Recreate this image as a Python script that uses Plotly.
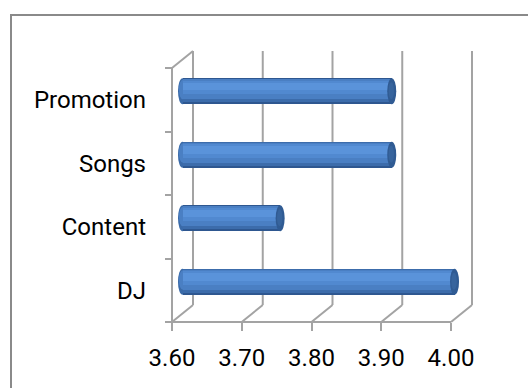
import plotly.graph_objects as go

# ---- data ----
categories = ["DJ", "Content", "Songs", "Promotion"]
values = [3.99, 3.74, 3.90, 3.90]
x_ticks = [3.60, 3.70, 3.80, 3.90, 4.00]
x_tick_labels = ["3.60", "3.70", "3.80", "3.90", "4.00"]
x_base = 3.60

# ---- geometry (pixels) ----
PXX = 697.5          # px per x unit
PXY = 63.5           # px per category
PLOT_L, PLOT_R, PLOT_T, PLOT_B = 168, 476, 47, 326
AX_X_PX, AX_Y_PX = 172, 322      # front axes location
DEPTH_X, DEPTH_Y = 21, 17        # 3-D depth offset (px)
W = PLOT_R - PLOT_L
H = PLOT_B - PLOT_T

x_min = x_base - (AX_X_PX - PLOT_L) / PXX
x_max = x_min + W / PXX
y_lo = -0.5
y_hi = len(categories) - 0.5
y_min = y_lo - (PLOT_B - AX_Y_PX) / PXY
y_max = y_min + H / PXY

dx_full = DEPTH_X / PXX
dy_full = DEPTH_Y / PXY
dx_mid = dx_full / 2
dy_mid = dy_full / 2

GRID = "#A3A3A3"
fig = go.Figure()

# ---- cylinder bars (layered bands for shading) ----
half = 13.0
bands = [
    (-13.0, 13.0, "#2E5790"),
    (-11.0, 12.6, "#3C6CAB"),
    (-8.0, 12.0, "#4A7FC3"),
    (-3.0, 10.5, "#5189D0"),
    (1.0, 8.5, "#5A93DA"),
]
lengths = [v - x_base for v in values]
for lo, hi, col in bands:
    fig.add_trace(go.Bar(
        y=categories, x=lengths, base=[x_base + dx_mid] * len(values),
        orientation="h",
        width=(hi - lo) / PXY,
        offset=lo / PXY + dy_mid,
        marker=dict(color=col, line=dict(width=0)),
        hoverinfo="skip", showlegend=False,
    ))

shapes = []
line_style = dict(color=GRID, width=2)

# front axes lines
shapes.append(dict(type="line", xref="x", yref="y", x0=x_ticks[0], x1=x_ticks[-1],
                   y0=y_lo, y1=y_lo, line=line_style, layer="below"))
shapes.append(dict(type="line", xref="x", yref="y", x0=x_ticks[0], x1=x_ticks[0],
                   y0=y_lo, y1=y_hi, line=line_style, layer="below"))
# top-left diagonal
shapes.append(dict(type="line", xref="x", yref="y", x0=x_ticks[0], x1=x_ticks[0] + dx_full,
                   y0=y_hi, y1=y_hi + dy_full, line=line_style, layer="below"))
for t in x_ticks:
    # floor diagonal
    shapes.append(dict(type="line", xref="x", yref="y", x0=t, x1=t + dx_full,
                       y0=y_lo, y1=y_lo + dy_full, line=line_style, layer="below"))
    # back wall gridline
    shapes.append(dict(type="line", xref="x", yref="y", x0=t + dx_full, x1=t + dx_full,
                       y0=y_lo + dy_full, y1=y_hi + dy_full, line=line_style, layer="below"))

# cylinder caps
cap_w = 4.5 / PXX
for i, v in enumerate(values):
    yc = i + dy_mid
    xl = x_base + dx_mid
    # left rounded end (behind body)
    shapes.append(dict(type="circle", xref="x", yref="y",
                       x0=xl - cap_w, x1=xl + cap_w, y0=yc - half / PXY, y1=yc + half / PXY,
                       fillcolor="#3A6AA8", line=dict(width=0), layer="below"))
    shapes.append(dict(type="circle", xref="x", yref="y",
                       x0=xl - cap_w * 0.8, x1=xl + cap_w, y0=yc - 8 / PXY, y1=yc + 11.5 / PXY,
                       fillcolor="#4A7FC3", line=dict(width=0), layer="below"))
    # right visible end cap
    xr = v + dx_mid
    shapes.append(dict(type="circle", xref="x", yref="y",
                       x0=xr - cap_w, x1=xr + cap_w, y0=yc - half / PXY, y1=yc + half / PXY,
                       fillcolor="#305B93", line=dict(width=0), layer="above"))
    shapes.append(dict(type="circle", xref="x", yref="y",
                       x0=xr - cap_w * 0.7, x1=xr + cap_w * 0.5, y0=yc - 8 / PXY, y1=yc + 9 / PXY,
                       fillcolor="#37649D", line=dict(width=0), layer="above"))

# outer chart border (extends past right/bottom edges)
shapes.append(dict(type="rect", xref="paper", yref="paper",
                   x0=(11 - PLOT_L) / W, x1=(540 - PLOT_L) / W,
                   y0=(PLOT_B - 400) / H, y1=(PLOT_B - 15) / H,
                   line=dict(color="#8A8A8A", width=2), fillcolor="rgba(0,0,0,0)", layer="below"))

FONT = dict(family="Roboto, Lato, sans-serif", size=24, color="#000000")

fig.update_layout(
    width=528, height=388,
    margin=dict(l=PLOT_L, r=528 - PLOT_R, t=PLOT_T, b=388 - PLOT_B, pad=0),
    paper_bgcolor="white", plot_bgcolor="rgba(0,0,0,0)",
    barmode="overlay", bargap=0,
    showlegend=False,
    shapes=shapes,
    font=FONT,
    xaxis=dict(range=[x_min, x_max], autorange=False, tickvals=x_ticks, ticktext=x_tick_labels,
               showgrid=False, zeroline=False, showline=False,
               ticks="outside", ticklen=8, tickwidth=2, tickcolor=GRID,
               anchor="free", position=(PLOT_B - AX_Y_PX) / H,
               tickfont=FONT, ticklabelstandoff=6, fixedrange=True),
    yaxis=dict(type="category", categoryorder="array", categoryarray=categories,
               range=[y_min, y_max], autorange=False,
               showgrid=False, zeroline=False, showline=False,
               ticks="outside", tickson="boundaries", ticklen=7, tickwidth=2, tickcolor=GRID,
               anchor="free", position=(AX_X_PX - PLOT_L) / W,
               tickfont=FONT, ticklabelstandoff=26, fixedrange=True),
)

fig.write_html("out.html", config={"displayModeBar": False})
